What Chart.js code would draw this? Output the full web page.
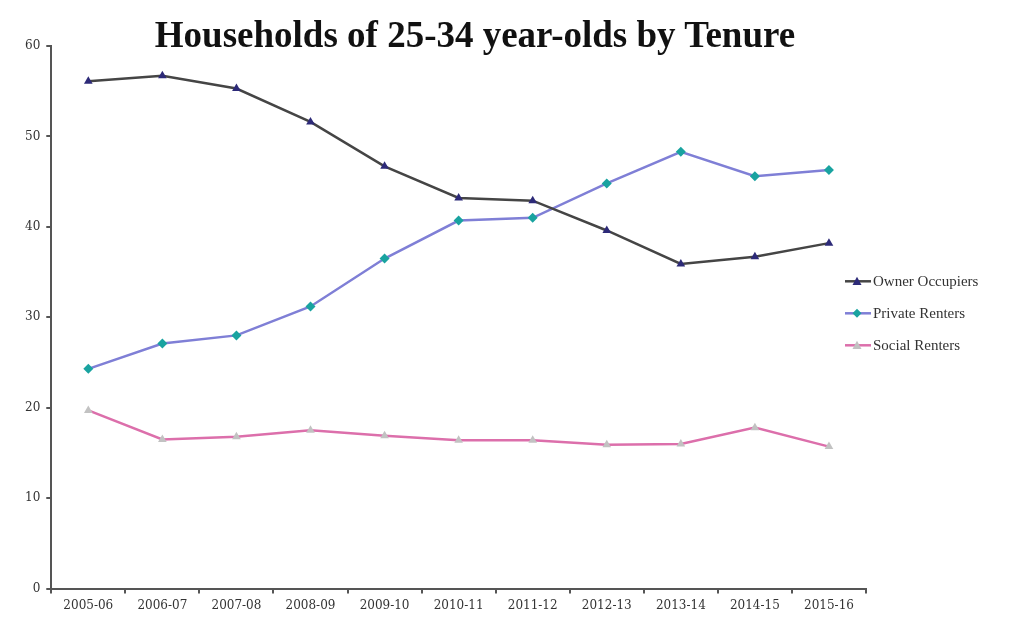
<!DOCTYPE html>
<html>
<head>
<meta charset="utf-8">
<script src="https://cdn.jsdelivr.net/npm/chart.js@4/dist/chart.umd.min.js"></script>
<style>
  html, body { margin: 0; padding: 0; background: #fff; }
  #wrap { position: relative; width: 1024px; height: 623px; }
  #title {
    position: absolute; left: 0; top: 15px; width: 950px; text-align: center;
    font-family: "Liberation Serif", serif; font-weight: bold; font-size: 37px; color: #111;
    margin: 0; line-height: 40px;
  }
</style>
</head>
<body>
<div id="wrap">
  <canvas id="tenureChart" width="1024" height="623"></canvas>
  <h1 id="title">Households of 25-34 year-olds by Tenure</h1>
</div>
<script>
const years = ['2005-06', '2006-07', '2007-08', '2008-09', '2009-10', '2010-11',
               '2011-12', '2012-13', '2013-14', '2014-15', '2015-16'];
const ownerOccupiers = [56.1, 56.7, 55.3, 51.6, 46.7, 43.2, 42.9, 39.6, 35.9, 36.7, 38.2];
const privateRenters = [24.3, 27.1, 28.0, 31.2, 36.5, 40.7, 41.0, 44.8, 48.3, 45.6, 46.3];
const socialRenters  = [19.7, 16.5, 16.8, 17.5, 16.9, 16.4, 16.4, 15.9, 16.0, 17.8, 15.7];
const yTicks = [0, 10, 20, 30, 40, 50, 60];

const axisColor = '#555';
const tickFont = { family: '"DejaVu Serif", serif', size: 12 };

// marker drawn in the side legend (line + point)
function drawMarker(ctx, style, x, y, r, color) {
  ctx.fillStyle = color;
  ctx.beginPath();
  if (style === 'triangle') {
    ctx.moveTo(x, y - r);
    ctx.lineTo(x + r, y + r * 0.8);
    ctx.lineTo(x - r, y + r * 0.8);
  } else {
    ctx.moveTo(x, y - r);
    ctx.lineTo(x + r, y);
    ctx.lineTo(x, y + r);
    ctx.lineTo(x - r, y);
  }
  ctx.closePath();
  ctx.fill();
}

const sideLegend = {
  id: 'sideLegend',
  afterDraw(chart) {
    const ctx = chart.ctx;
    const area = chart.chartArea;
    const mid = (area.top + area.bottom) / 2;
    const x0 = area.right - 21;
    ctx.save();
    chart.data.datasets.forEach((ds, i) => {
      const y = mid - 36 + i * 32;
      ctx.strokeStyle = ds.borderColor;
      ctx.lineWidth = 2.5;
      ctx.beginPath();
      ctx.moveTo(x0, y);
      ctx.lineTo(x0 + 26, y);
      ctx.stroke();
      drawMarker(ctx, ds.pointStyle, x0 + 12, y, 4.5, ds.pointBackgroundColor);
      ctx.fillStyle = '#333';
      ctx.font = '15px "Liberation Serif", serif';
      ctx.textBaseline = 'middle';
      ctx.fillText(ds.label, x0 + 28, y + 1);
    });
    ctx.restore();
  }
};

function series(label, data, line, point, style) {
  return {
    label, data,
    borderColor: line, borderWidth: 2.5,
    pointStyle: style, pointRadius: 5,
    pointBackgroundColor: point, pointBorderColor: point, pointBorderWidth: 0,
    tension: 0, fill: false
  };
}

new Chart(document.getElementById('tenureChart').getContext('2d'), {
  type: 'line',
  data: {
    labels: years,
    datasets: [
      series('Owner Occupiers', ownerOccupiers, '#454545', '#2d2a78', 'triangle'),
      series('Private Renters', privateRenters, '#7f7fd6', '#19a3a0', 'rectRot'),
      series('Social Renters', socialRenters, '#dc6fab', '#c2c2c2', 'triangle')
    ]
  },
  options: {
    responsive: false,
    animation: false,
    layout: { padding: { left: 19, right: 158, top: 46, bottom: 5 } },
    plugins: { legend: { display: false }, title: { display: false }, tooltip: { enabled: false } },
    scales: {
      x: {
        offset: true,
        grid: { offset: true, drawOnChartArea: false, drawTicks: true, tickLength: 5, color: axisColor, lineWidth: 2 },
        border: { color: axisColor, width: 2 },
        ticks: { color: '#333', font: tickFont, padding: 5, maxRotation: 0 }
      },
      y: {
        min: 0, max: 60,
        afterBuildTicks(scale) { scale.ticks = yTicks.map(v => ({ value: v })); },
        grid: { drawOnChartArea: false, drawTicks: true, tickLength: 5, color: axisColor, lineWidth: 2 },
        border: { color: axisColor, width: 2 },
        ticks: { color: '#333', font: tickFont, padding: 6 }
      }
    }
  },
  plugins: [sideLegend]
});
</script>
</body>
</html>
